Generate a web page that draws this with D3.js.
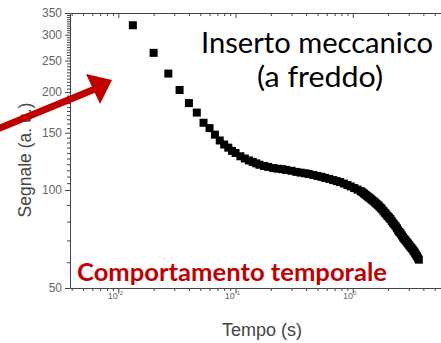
<!DOCTYPE html>
<html>
<head>
<meta charset="utf-8">
<script src="https://cdn.jsdelivr.net/npm/d3@7"></script>
<style>
  body { margin: 0; background: #fff; }
  svg { display: block; }
</style>
</head>
<body>
<div id="chart"></div>
<script>
// Tempo (s) and Segnale (a. u.)
var tempo = [0.0133, 0.0200, 0.0267, 0.0333, 0.0400, 0.0467, 0.0533, 0.0600, 0.0667, 0.0733,
    0.0800, 0.0867, 0.0933, 0.100, 0.110, 0.120, 0.130, 0.140, 0.150, 0.160,
    0.175, 0.190, 0.210, 0.230, 0.250, 0.270, 0.300, 0.330, 0.360, 0.390,
    0.420, 0.460, 0.500, 0.540, 0.580, 0.630, 0.680, 0.730, 0.780, 0.840,
    0.900, 0.960, 1.03, 1.10, 1.17, 1.21, 1.25, 1.29, 1.33, 1.37,
    1.41, 1.45, 1.50, 1.545, 1.59, 1.635, 1.68, 1.73, 1.78, 1.83,
    1.88, 1.93, 1.98, 2.035, 2.09, 2.145, 2.20, 2.26, 2.32, 2.38,
    2.44, 2.50, 2.56, 2.625, 2.69, 2.755, 2.82, 2.89, 2.96, 3.03,
    3.10, 3.17, 3.24, 3.31, 3.38, 3.45, 3.52, 3.59, 3.66];
var segnale = [321, 264, 228, 203, 185, 173, 161, 155, 148, 142,
    138, 135, 132, 130, 127, 125.0, 123.3, 122.0, 120.8, 119.6,
    118.6, 117.8, 116.8, 116.3, 115.9, 115.3, 114.6, 113.7, 113.1, 112.6,
    112.1, 111.3, 110.5, 109.8, 109.0, 108.2, 107.3, 106.5, 105.8, 104.7,
    103.6, 102.6, 101.4, 100.3, 99.2, 98.4, 97.5, 96.6, 95.7, 95.0,
    94.2, 93.4, 92.5, 91.6, 90.8, 90.0, 89.1, 88.2, 87.2, 86.1,
    85.1, 84.2, 83.2, 82.4, 81.5, 80.4, 79.3, 78.4, 77.4, 76.3,
    75.2, 74.3, 73.5, 72.5, 71.5, 70.7, 70.0, 69.2, 68.5, 67.7,
    67.0, 66.3, 65.7, 64.9, 64.2, 63.4, 62.7, 61.9, 61.1];

// tick labels
var yTicks = [50, 100, 150, 200, 250, 300, 350];
var xTicks = [0.01, 0.1, 1];

var data = tempo.map(function (t, i) { return { t: t, s: segnale[i] }; });

var width = 441, height = 343;
var margin = { left: 70, top: 13, bottom: 288 };

var svg = d3.select("#chart")
    .append("svg")
    .attr("width", width)
    .attr("height", height)
    .style("font-family", "'Liberation Sans', Arial, sans-serif");

// log scales, the right edge of the frame falls outside the picture
var x = d3.scaleLog()
    .domain([0.00387, 10])
    .range([margin.left, 470]);

var y = d3.scaleLog()
    .domain([50, 350])
    .range([margin.bottom, margin.top]);

// minor ticks
var xMinor = [];
[0.001, 0.01, 0.1, 1].forEach(function (p) {
    for (var k = 2; k <= 9; k++) xMinor.push(k * p);
});
xMinor = xMinor.filter(function (v) { return v > 0.00387 && v < 10; });
var yMinor = d3.range(60, 100, 10).concat(d3.range(105, 350, 5))
    .filter(function (v) { return yTicks.indexOf(v) < 0; });

// bottom axis
svg.append("g")
    .attr("transform", "translate(0," + margin.bottom + ")")
    .call(d3.axisBottom(x).tickValues(xTicks).tickSize(5).tickSizeOuter(0).tickFormat(""));
svg.append("g")
    .attr("transform", "translate(0," + margin.bottom + ")")
    .call(d3.axisBottom(x).tickValues(xMinor).tickSize(3).tickFormat(""))
    .select(".domain").remove();

// x tick labels as 10 with a superscript
xTicks.forEach(function (v) {
    var t = svg.append("text")
        .attr("x", x(v) - 3)
        .attr("y", 299)
        .attr("text-anchor", "middle")
        .attr("font-size", 9)
        .attr("fill", "#666");
    t.append("tspan").text("10");
    t.append("tspan")
        .attr("dy", -4)
        .attr("font-size", 6)
        .text(Math.round(Math.log10(v)));
});

// top axis, ticks pointing in
svg.append("g")
    .attr("transform", "translate(0," + margin.top + ")")
    .call(d3.axisBottom(x).tickValues(xTicks).tickSize(5).tickSizeOuter(0).tickFormat(""));
svg.append("g")
    .attr("transform", "translate(0," + margin.top + ")")
    .call(d3.axisBottom(x).tickValues(xMinor).tickSize(3).tickFormat(""))
    .select(".domain").remove();

// left axis
svg.append("g")
    .attr("transform", "translate(" + margin.left + ",0)")
    .call(d3.axisLeft(y).tickValues(yTicks).tickSize(5).tickSizeOuter(0).tickPadding(3).tickFormat(d3.format("d")))
    .selectAll("text")
    .attr("font-size", 12)
    .attr("fill", "#666");
svg.append("g")
    .attr("transform", "translate(" + margin.left + ",0)")
    .call(d3.axisLeft(y).tickValues(yMinor).tickSize(3).tickFormat(""))
    .select(".domain").remove();

svg.selectAll(".domain").attr("stroke", "#444");
svg.selectAll(".tick line").attr("stroke", "#444");

// axis titles
svg.append("text")
    .attr("x", 262)
    .attr("y", 336)
    .attr("text-anchor", "middle")
    .attr("font-size", 18)
    .attr("fill", "#444")
    .text("Tempo (s)");

svg.append("text")
    .attr("transform", "translate(31,160) rotate(-90)")
    .attr("text-anchor", "middle")
    .attr("font-size", 17.5)
    .attr("fill", "#444")
    .text("Segnale (a. u.)");

// square markers
var sq = 8;
svg.append("g")
    .selectAll("rect")
    .data(data)
    .enter()
    .append("rect")
    .attr("x", d => x(d.t) - sq / 2)
    .attr("y", d => y(d.s) - sq / 2)
    .attr("width", sq)
    .attr("height", sq)
    .attr("fill", "#000");

// annotations
svg.append("text")
    .attr("x", 317)
    .attr("y", 53)
    .attr("text-anchor", "middle")
    .attr("font-family", "Lato, sans-serif")
    .attr("font-size", 29)
    .attr("textLength", 232)
    .attr("lengthAdjust", "spacingAndGlyphs")
    .attr("fill", "#000")
    .text("Inserto meccanico");

svg.append("text")
    .attr("x", 320)
    .attr("y", 87)
    .attr("text-anchor", "middle")
    .attr("font-family", "Lato, sans-serif")
    .attr("font-size", 29)
    .attr("textLength", 126)
    .attr("lengthAdjust", "spacingAndGlyphs")
    .attr("fill", "#000")
    .text("(a freddo)");

svg.append("text")
    .attr("x", 232)
    .attr("y", 281)
    .attr("text-anchor", "middle")
    .attr("font-family", "Lato, sans-serif")
    .attr("font-weight", "bold")
    .attr("font-size", 25)
    .attr("textLength", 310)
    .attr("lengthAdjust", "spacingAndGlyphs")
    .attr("fill", "#C00000")
    .text("Comportamento temporale");

// red arrow
svg.append("line")
    .attr("x1", -5)
    .attr("y1", 130)
    .attr("x2", 95)
    .attr("y2", 89)
    .attr("stroke", "#C00000")
    .attr("stroke-width", 7);
svg.append("polygon")
    .attr("points", "86,74 112,80 100,104")
    .attr("fill", "#C00000");
</script>
</body>
</html>
